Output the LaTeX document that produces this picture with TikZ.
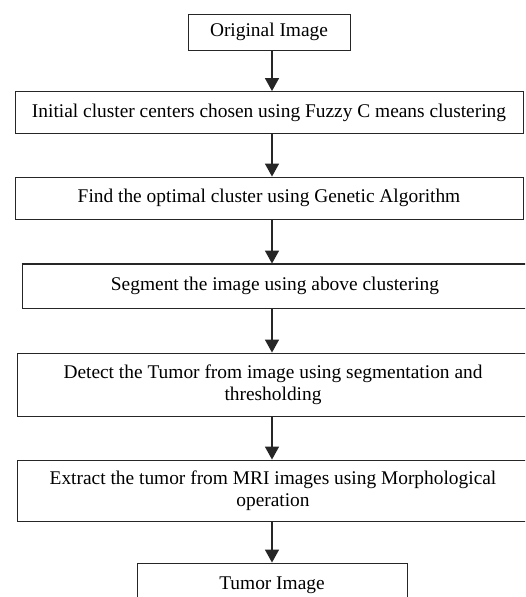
\documentclass[tikz,border=0pt]{standalone}
\usepackage{fontspec}
\setmainfont{Liberation Serif}
\usetikzlibrary{arrows.meta}

\begin{document}
\begin{tikzpicture}[
    x=1pt, y=-1pt,
    proc_box/.style={draw=black!85, line width=0.9pt, inner sep=0pt, align=center,
      font=\fontsize{19.4}{22}\selectfont},
    flow_arrow/.style={-{Triangle[width=14pt, length=13pt]}, line width=1.6pt, black!85}
  ]

  % 0. Sidans storlek och beskarning
  \useasboundingbox (0,0) rectangle (525,597);
  \clip (0,0) rectangle (525,597);
  \coordinate (ax) at (272,0);

  % 1. Stegen i flodet
  \node[proc_box, minimum width=162pt, minimum height=36pt] (orig) at (269,32) {Original Image};
  \node[proc_box, minimum width=508pt, minimum height=42pt] (init) at (269,112.5)
    {Initial cluster centers chosen using Fuzzy C means clustering};
  \node[proc_box, minimum width=508pt, minimum height=42pt] (find) at (269,198)
    {Find the optimal cluster using Genetic Algorithm};
  \node[proc_box, minimum width=506pt, minimum height=44pt] (seg) at (275,286)
    {Segment the image using above clustering};
  \node[proc_box, minimum width=512pt, minimum height=63pt] (detect) at (273,384.5)
    {Detect the Tumor from image using segmentation and\\ thresholding};
  \node[proc_box, minimum width=512pt, minimum height=61pt] (extract) at (273,490.5)
    {Extract the tumor from MRI images using Morphological\\ operation};
  \node[proc_box, minimum width=270pt, minimum height=44pt] (tumor) at (272,585) {Tumor Image};

  % 2. Tjockare overkant pa segmenteringsrutan
  \draw[black!85, line width=1.8pt] (seg.north west) -- (seg.north east);

  % 3. Pilar mellan stegen
  \foreach \a/\b in {orig/init, init/find, find/seg, seg/detect, detect/extract, extract/tumor}
    \draw[flow_arrow] (\a.south -| ax) -- (\b.north -| ax);

\end{tikzpicture}
\end{document}
